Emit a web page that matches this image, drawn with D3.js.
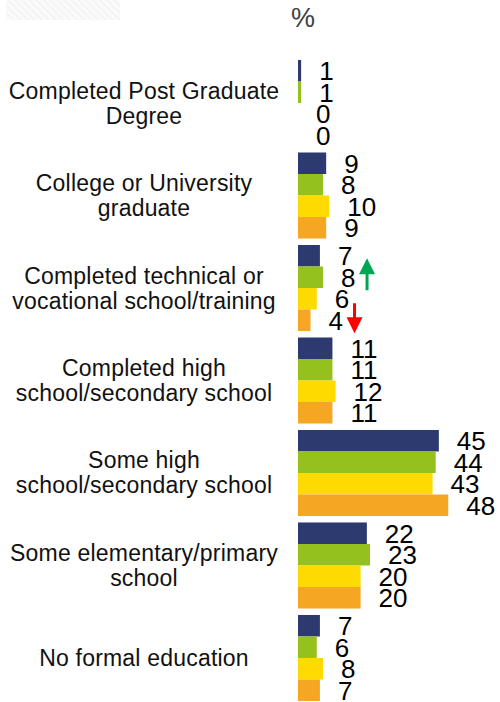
<!DOCTYPE html>
<html>
<head>
<meta charset="utf-8">
<script src="https://cdn.jsdelivr.net/npm/d3@7"></script>
<style>
  body { margin: 0; background: #fff; }
  svg { display: block; font-family: "Liberation Sans", Arial, sans-serif; }
</style>
</head>
<body>
<div id="chart"></div>
<script>
// categorie (righe del grafico)
const categories = [
  "Completed Post Graduate Degree",
  "College or University graduate",
  "Completed technical or vocational school/training",
  "Completed high school/secondary school",
  "Some high school/secondary school",
  "Some elementary/primary school",
  "No formal education"
];
// righe delle etichette, spezzate come nell'originale
const labelLines = [
  ["Completed Post Graduate", "Degree"],
  ["College or University", "graduate"],
  ["Completed technical or", "vocational school/training"],
  ["Completed high", "school/secondary school"],
  ["Some high", "school/secondary school"],
  ["Some elementary/primary", "school"],
  ["No formal education"]
];

const seriesNames = ["Wave 1", "Wave 2", "Wave 3", "Wave 4"];
const wave1 = [1, 9, 7, 11, 45, 22, 7];
const wave2 = [1, 8, 8, 11, 44, 23, 6];
const wave3 = [0, 10, 6, 12, 43, 20, 8];
const wave4 = [0, 9, 4, 11, 48, 20, 7];
const seriesColors = ["#2c3a6f", "#95c11f", "#ffda00", "#f5a623"];

// frecce di variazione significativa: categoria, serie, direzione
const changes = [
  { cat: 2, series: 1, dir: "up" },
  { cat: 2, series: 3, dir: "down" }
];

const allSeries = [wave1, wave2, wave3, wave4];

const width = 500, height = 702;

const svg = d3.select("#chart")
  .append("svg")
  .attr("width", width)
  .attr("height", height);

// rettangolo tratteggiato appena visibile in alto a sinistra
const defs = svg.append("defs");
const pat = defs.append("pattern")
  .attr("id", "hatch")
  .attr("patternUnits", "userSpaceOnUse")
  .attr("width", 5).attr("height", 5)
  .attr("patternTransform", "rotate(-45)");
pat.append("rect").attr("width", 5).attr("height", 5).attr("fill", "#fafafa");
pat.append("line").attr("x1", 0).attr("y1", 0).attr("x2", 0).attr("y2", 5)
  .attr("stroke", "#efefef").attr("stroke-width", 2);
svg.append("rect")
  .attr("x", 6).attr("y", 0).attr("width", 114).attr("height", 20)
  .attr("fill", "url(#hatch)");

// scale
const y0 = d3.scaleBand()
  .domain(categories)
  .range([60, 701])
  .paddingInner(0.07)
  .paddingOuter(0);

const y1 = d3.scaleBand()
  .domain(seriesNames)
  .range([0, y0.bandwidth()]);

const x = d3.scaleLinear()
  .domain([0, 50])
  .range([298, 454.5]);

// titolo "%"
svg.append("text")
  .attr("x", 303)
  .attr("y", 27)
  .attr("text-anchor", "middle")
  .attr("fill", "#404040")
  .style("font-size", "27px")
  .text("%");

// etichette delle categorie
const labels = svg.append("g");
categories.forEach((c, i) => {
  const lines = labelLines[i];
  const lh = 25;
  const cy = y0(c) + y0.bandwidth() / 2;
  const t = labels.append("text")
    .attr("text-anchor", "middle")
    .attr("fill", "#111")
    .style("font-size", "23px")
    .style("letter-spacing", "0.2px");
  lines.forEach((l, j) => {
    t.append("tspan")
      .attr("x", 144)
      .attr("y", cy + (j - (lines.length - 1) / 2) * lh + 8)
      .text(l);
  });
});

// barre
const groups = svg.append("g")
  .selectAll("g")
  .data(categories)
  .join("g")
  .attr("transform", d => `translate(0, ${y0(d)})`);

groups.selectAll("rect")
  .data((d, i) => allSeries.map((s, k) => ({ key: seriesNames[k], value: s[i], k: k })))
  .join("rect")
  .attr("x", x(0))
  .attr("y", d => y1(d.key))
  .attr("width", d => x(d.value) - x(0))
  .attr("height", y1.bandwidth())
  .attr("fill", d => seriesColors[d.k]);

// valori
groups.selectAll("text")
  .data((d, i) => allSeries.map((s, k) => ({ key: seriesNames[k], value: s[i], k: k })))
  .join("text")
  .attr("x", d => x(d.value) + 18)
  .attr("y", d => y1(d.key) + y1.bandwidth() / 2 + 9.5)
  .attr("fill", "#000")
  .style("font-size", "26px")
  .text(d => d.value);

// frecce
changes.forEach(ch => {
  const v = allSeries[ch.series][ch.cat];
  const cx = x(v) + 44;
  const cy = y0(categories[ch.cat]) + y1(seriesNames[ch.series]) + y1.bandwidth() / 2;
  const p = d3.path();
  const hw = 8, hh = 16, sw = 1.5;
  if (ch.dir === "up") {
    const top = cy - 19, bot = cy + 13;
    p.moveTo(cx, top);
    p.lineTo(cx + hw, top + hh);
    p.lineTo(cx + sw, top + hh);
    p.lineTo(cx + sw, bot);
    p.lineTo(cx - sw, bot);
    p.lineTo(cx - sw, top + hh);
    p.lineTo(cx - hw, top + hh);
    p.closePath();
  } else {
    const top = cy - 17, bot = cy + 13;
    p.moveTo(cx, bot);
    p.lineTo(cx + hw, bot - hh);
    p.lineTo(cx + sw, bot - hh);
    p.lineTo(cx + sw, top);
    p.lineTo(cx - sw, top);
    p.lineTo(cx - sw, bot - hh);
    p.lineTo(cx - hw, bot - hh);
    p.closePath();
  }
  svg.append("path")
    .attr("d", p.toString())
    .attr("fill", ch.dir === "up" ? "#00a651" : "#ff0000");
});
</script>
</body>
</html>
